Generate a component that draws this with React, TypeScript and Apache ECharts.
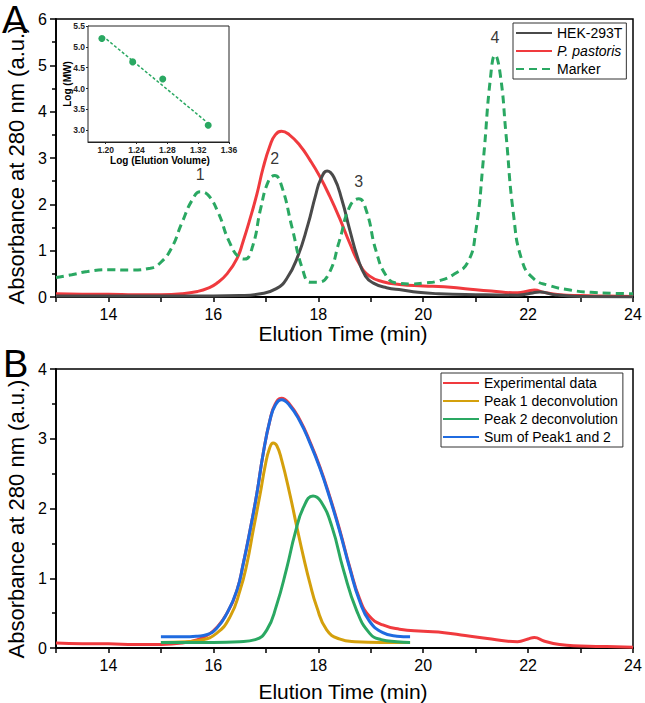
import React, { useEffect, useRef } from "react";
import * as echarts from "echarts";

const FONT = "'Liberation Sans', Arial, sans-serif";

// Panel A data (elution time, absorbance)
const hek293t: number[][] = [
  [13, 0.02], [14, 0.02], [15, 0.02], [16, 0.02], [16.5, 0.03], [16.9, 0.07], [17.2, 0.18],
  [17.4, 0.4], [17.6, 0.85], [17.8, 1.55], [17.95, 2.2], [18.05, 2.55], [18.17, 2.72],
  [18.3, 2.58], [18.45, 2.1], [18.6, 1.45], [18.75, 0.85], [18.9, 0.45], [19.05, 0.3],
  [19.3, 0.2], [19.6, 0.15], [19.9, 0.1], [20.3, 0.07], [21, 0.05], [21.8, 0.04],
  [22.05, 0.08], [22.22, 0.11], [22.5, 0.05], [23, 0.01], [24, 0.0],
];
const pPastoris: number[][] = [
  [13, 0.07], [13.5, 0.06], [14, 0.06], [14.5, 0.05], [15, 0.05], [15.4, 0.07], [15.7, 0.12],
  [15.9, 0.19], [16.06, 0.29], [16.26, 0.5], [16.45, 0.83], [16.57, 1.21], [16.7, 1.69],
  [16.83, 2.22], [16.95, 2.79], [17.08, 3.27], [17.18, 3.5], [17.3, 3.58], [17.45, 3.5],
  [17.65, 3.27], [17.84, 2.96], [18.03, 2.6], [18.22, 2.17], [18.41, 1.69], [18.6, 1.16],
  [18.79, 0.7], [18.98, 0.45], [19.23, 0.33], [19.55, 0.27], [20, 0.24], [20.4, 0.22],
  [20.8, 0.18], [21.3, 0.13], [21.8, 0.09], [22.0, 0.13], [22.12, 0.15], [22.3, 0.1],
  [22.6, 0.05], [23, 0.03], [23.5, 0.02], [24, 0.01],
];
const marker: number[][] = [
  [13, 0.42], [13.3, 0.48], [13.6, 0.55], [14, 0.59], [14.4, 0.58], [14.8, 0.62], [15, 0.75],
  [15.2, 1.05], [15.4, 1.6], [15.6, 2.1], [15.75, 2.27], [15.9, 2.2], [16.1, 1.8], [16.3, 1.2],
  [16.5, 0.85], [16.6, 0.82], [16.75, 1.1], [16.9, 1.9], [17.05, 2.5], [17.17, 2.62],
  [17.3, 2.4], [17.5, 1.5], [17.7, 0.6], [17.85, 0.32], [18.0, 0.32], [18.2, 0.5], [18.4, 1.2],
  [18.6, 1.95], [18.77, 2.12], [18.92, 1.85], [19.1, 1.0], [19.3, 0.45], [19.5, 0.3],
  [19.8, 0.28], [20.0, 0.3], [20.3, 0.35], [20.6, 0.5], [20.85, 0.75], [21.0, 1.4],
  [21.15, 3.0], [21.28, 4.7], [21.37, 5.22], [21.47, 4.8], [21.58, 3.5], [21.72, 1.8],
  [21.88, 0.8], [22.1, 0.4], [22.4, 0.25], [22.8, 0.15], [23.2, 0.1], [23.6, 0.08], [24, 0.07],
];
const peakLabels = ["1", "2", "3", "4"];
const peakPositions: number[][] = [[15.75, 2.27], [17.17, 2.62], [18.77, 2.12], [21.37, 5.22]];

// Inset: calibration
const logElutionVolume = [1.195, 1.235, 1.274, 1.333];
const logMW = [5.2, 4.64, 4.23, 3.12];
const fitLine: number[][] = [[1.196, 5.26], [1.331, 3.2]];
const insetXTicks = [1.2, 1.24, 1.28, 1.32, 1.36];
const insetYTicks = [3.0, 3.5, 4.0, 4.5, 5.0, 5.5];

// Panel B data
const peak1Deconv: number[][] = [
  [15, 0.08], [15.5, 0.09], [15.75, 0.11], [16.06, 0.21], [16.32, 0.45], [16.51, 0.83],
  [16.64, 1.21], [16.76, 1.69], [16.89, 2.2], [16.99, 2.62], [17.07, 2.86], [17.14, 2.94],
  [17.21, 2.9], [17.3, 2.7], [17.46, 2.2], [17.59, 1.74], [17.72, 1.3], [17.84, 0.93],
  [17.97, 0.59], [18.16, 0.26], [18.4, 0.13], [18.7, 0.09], [19.2, 0.08], [19.75, 0.08],
];
const peak2Deconv: number[][] = [
  [15, 0.08], [16, 0.08], [16.5, 0.09], [16.8, 0.12], [17.02, 0.26], [17.2, 0.6], [17.4, 1.15],
  [17.56, 1.65], [17.72, 2.02], [17.9, 2.18], [18.05, 2.1], [18.26, 1.74], [18.48, 1.12],
  [18.73, 0.54], [18.98, 0.21], [19.2, 0.12], [19.5, 0.09], [19.75, 0.08],
];
const sumPeaks: number[][] = [
  [15, 0.16], [15.43, 0.16], [15.7, 0.17], [15.87, 0.19], [16.06, 0.28], [16.26, 0.5],
  [16.45, 0.83], [16.57, 1.21], [16.7, 1.69], [16.83, 2.22], [16.95, 2.79], [17.08, 3.27],
  [17.18, 3.48], [17.3, 3.56], [17.45, 3.48], [17.65, 3.25], [17.84, 2.94], [18.03, 2.58],
  [18.22, 2.15], [18.41, 1.67], [18.6, 1.14], [18.79, 0.67], [18.98, 0.38], [19.23, 0.22],
  [19.5, 0.17], [19.75, 0.16],
];

const legendA = ["HEK-293T", "P. pastoris", "Marker"];
const legendB = ["Experimental data", "Peak 1 deconvolution", "Peak 2 deconvolution", "Sum of Peak1 and 2"];

const C_GRAY = "#4a4a4a";
const C_RED = "#f03a3e";
const C_GREEN = "#2aa862";
const C_GOLD = "#d4a00c";
const C_BLUE = "#1f6be0";

export default function App() {
  const ref = useRef<HTMLDivElement>(null);
  useEffect(() => {
    if (!ref.current) return;
    const chart = echarts.init(ref.current, null, { renderer: "svg" });
    const axisLineStyle = { color: "#000", width: 1.8 };
    const mainX = (gridIndex: number) => ({
      type: "value", gridIndex, min: 13, max: 24, interval: 1,
      axisLine: { show: true, onZero: false, lineStyle: axisLineStyle },
      axisTick: { show: true, length: 5, lineStyle: { color: "#000", width: 1.5 } },
      axisLabel: {
        fontSize: 16, color: "#000", margin: 9, fontFamily: FONT,
        formatter: (v: number) => (Math.round(v) % 2 === 0 ? String(Math.round(v)) : ""),
      },
      splitLine: { show: false },
    });
    const mainY = (gridIndex: number, max: number) => ({
      type: "value", gridIndex, min: 0, max, interval: 1,
      axisLine: { show: true, onZero: false, lineStyle: axisLineStyle },
      axisTick: { show: true, length: 6, lineStyle: { color: "#000", width: 1.5 } },
      minorTick: { show: true, splitNumber: 2, length: 4, lineStyle: { color: "#000", width: 1.5 } },
      axisLabel: { fontSize: 16, color: "#000", margin: 9, fontFamily: FONT },
      splitLine: { show: false },
      minorSplitLine: { show: false },
    });
    const lineSeries = (name: string, data: number[][], color: string, x: number, y: number, extra: any = {}) => ({
      name, type: "line", data, xAxisIndex: x, yAxisIndex: y,
      symbol: "none", showSymbol: false, smooth: 0.5,
      lineStyle: { color, width: 3, ...(extra.lineStyle || {}) },
      itemStyle: { color },
      z: extra.z || 2,
    });
    const legendCommon = {
      orient: "vertical", itemWidth: 36, itemHeight: 14, itemGap: 4,
      borderColor: "#333", borderWidth: 1, backgroundColor: "#fff",
      itemStyle: { opacity: 0 },
      textStyle: { fontSize: 14, color: "#000", fontFamily: FONT, rich: { i: { fontStyle: "italic", fontSize: 14, fontFamily: FONT, color: "#000" } } },
    };
    const txt = (text: string, x: number, y: number, font: string, rotation = 0, align = "center") => ({
      type: "text", x, y, rotation,
      style: { text, font, fill: "#000", align, verticalAlign: "middle", textAlign: align, textVerticalAlign: "middle" },
    });
    const option: any = {
      animation: false,
      textStyle: { fontFamily: FONT },
      grid: [
        { left: 56, top: 19, right: 12, bottom: 406, show: true, borderColor: "#000", borderWidth: 1.5, backgroundColor: "transparent" },
        { left: 88, top: 26, right: 416, bottom: 561, show: true, borderColor: "#222", borderWidth: 1, backgroundColor: "#fff", z: 5 },
        { left: 56, top: 369, right: 12, bottom: 55, show: true, borderColor: "#000", borderWidth: 1.5, backgroundColor: "transparent" },
      ],
      xAxis: [
        mainX(0),
        {
          type: "value", gridIndex: 1, min: 1.177, max: 1.36,
          axisLine: { show: true, onZero: false, lineStyle: { color: "#222", width: 1 } },
          axisTick: { show: true, length: 2, customValues: insetXTicks, lineStyle: { color: "#222" } },
          axisLabel: { customValues: insetXTicks, fontSize: 8.5, fontWeight: "bold", color: "#222", margin: 3, formatter: (v: number) => v.toFixed(2) },
          splitLine: { show: false },
        },
        mainX(2),
      ],
      yAxis: [
        mainY(0, 6),
        {
          type: "value", gridIndex: 1, min: 2.72, max: 5.5,
          axisLine: { show: true, onZero: false, lineStyle: { color: "#222", width: 1 } },
          axisTick: { show: true, length: 2, customValues: insetYTicks, lineStyle: { color: "#222" } },
          axisLabel: { customValues: insetYTicks, fontSize: 8.5, fontWeight: "bold", color: "#222", margin: 3, formatter: (v: number) => v.toFixed(1) },
          splitLine: { show: false },
        },
        mainY(2, 4),
      ],
      legend: [
        { ...legendCommon, data: legendA, left: 513, top: 23, padding: [3, 4, 3, 2],
          formatter: (n: string) => (n === "P. pastoris" ? "{i|P. pastoris}" : n) },
        { ...legendCommon, data: legendB, left: 441, top: 373, padding: [3, 5, 3, 1] },
      ],
      series: [
        lineSeries("HEK-293T", hek293t, C_GRAY, 0, 0, { z: 3 }),
        lineSeries("P. pastoris", pPastoris, C_RED, 0, 0, { z: 2 }),
        lineSeries("Marker", marker, C_GREEN, 0, 0, { z: 4, lineStyle: { type: [8, 5] } }),
        {
          name: "peaks", type: "scatter", xAxisIndex: 0, yAxisIndex: 0,
          data: peakPositions.map((p, i) => ({ value: p, name: peakLabels[i] })),
          symbolSize: 1, itemStyle: { color: "rgba(0,0,0,0)" },
          label: { show: true, position: "top", distance: 9, formatter: (p: any) => p.name, fontSize: 16, color: "#000", fontFamily: FONT },
          z: 5,
        },
        {
          name: "fit", type: "line", xAxisIndex: 1, yAxisIndex: 1, data: fitLine,
          symbol: "none", lineStyle: { color: C_GREEN, width: 1.5, type: [3, 2] }, z: 6,
        },
        {
          name: "calibration", type: "scatter", xAxisIndex: 1, yAxisIndex: 1,
          data: logElutionVolume.map((x, i) => [x, logMW[i]]),
          symbolSize: 7, itemStyle: { color: C_GREEN, opacity: 1 }, z: 7,
        },
        lineSeries("Experimental data", pPastoris, C_RED, 2, 2, { z: 2 }),
        lineSeries("Peak 1 deconvolution", peak1Deconv, C_GOLD, 2, 2, { z: 3 }),
        lineSeries("Peak 2 deconvolution", peak2Deconv, C_GREEN, 2, 2, { z: 3 }),
        lineSeries("Sum of Peak1 and 2", sumPeaks, C_BLUE, 2, 2, { z: 4 }),
      ],
      graphic: [
        txt("A", 2, 20, `38px ${FONT}`, 0, "left"),
        txt("B", 3, 364, `38px ${FONT}`, 0, "left"),
        txt("Absorbance at 280 nm (a.u.)", 16, 165, `22px ${FONT}`, Math.PI / 2),
        txt("Absorbance at 280 nm (a.u.)", 16, 519, `22px ${FONT}`, Math.PI / 2),
        txt("Elution Time (min)", 343, 333, `21px ${FONT}`),
        txt("Elution Time (min)", 343, 691, `21px ${FONT}`),
        txt("Log (MW)", 67, 84, `bold 10px ${FONT}`, Math.PI / 2),
        txt("Log (Elution Volume)", 160, 160, `bold 10px ${FONT}`),
        txt("y = -15.21x + 23.45", 172, 37, `bold 9.5px ${FONT}`),
        txt("R² = 0.9868", 177, 49, `bold 9.5px ${FONT}`),
      ],
    };
    chart.setOption(option);
    return () => chart.dispose();
  }, []);
  return <div ref={ref} style={{ position: "fixed", left: 0, top: 0, width: 645, height: 703, background: "#fff" }} />;
}
